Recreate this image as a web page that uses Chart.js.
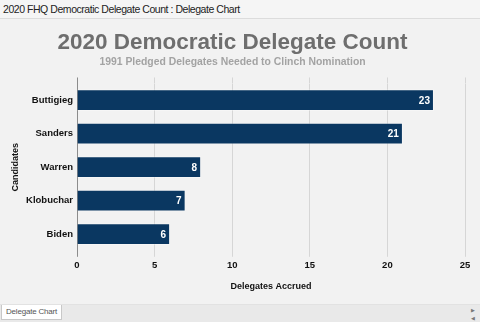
<!DOCTYPE html>
<html>
<head>
<meta charset="utf-8">
<script src="https://cdn.jsdelivr.net/npm/chart.js@4/dist/chart.umd.min.js"></script>
<style>
  body { margin: 0; width: 480px; height: 322px; overflow: hidden; background: #f2f2f2; font-family: "Liberation Sans", Arial, sans-serif; }
  #header { height: 18px; line-height: 18px; padding-left: 3px; font-size: 10.5px; letter-spacing: -0.45px; color: #222; background: #f5f5f5; border-bottom: 1px solid #dcdcdc; white-space: nowrap; }
  #wrap { position: relative; width: 480px; height: 285px; background: #f2f2f2; }
  #footer { position: relative; height: 18px; background: #e9e9e9; border-top: 1px solid #e2e2e2; }
  #tab { position: absolute; left: 1px; top: 0; padding: 0 4px; height: 14px; line-height: 14px; font-size: 8px; letter-spacing: -0.2px; color: #555; background: #fff; border: 1px solid #c8c8c8; border-top: none; white-space: nowrap; }
  .arrow { position: absolute; right: 5px; font-size: 5px; color: #777; }
</style>
</head>
<body>
<div id="header">2020 FHQ Democratic Delegate Count : Delegate Chart</div>
<div id="wrap"><canvas id="myChart"></canvas></div>
<div id="footer">
  <div id="tab">Delegate Chart</div>
  <span class="arrow" style="top:2px">&#9654;</span>
  <span class="arrow" style="top:10px">&#9664;</span>
</div>
<script>
const candidates = ["Buttigieg", "Sanders", "Warren", "Klobuchar", "Biden"]
const delegates = [23, 21, 8, 7, 6]
const xTicks = [0, 5, 10, 15, 20, 25]

const canvas = document.querySelector("#myChart")
const barColor = "#0a3761"
const gridColor = "#d6d6d6"
const zeroColor = "#8c8c8c"
const boldFont = { family: "'Liberation Sans', Arial, sans-serif", weight: "bold" }

// value labels drawn inside the end of each bar
const barLabels = {
    id: "barLabels",
    afterDatasetsDraw(chart) {
        const ctx = chart.ctx
        const meta = chart.getDatasetMeta(0)
        ctx.save()
        ctx.fillStyle = "#ffffff"
        ctx.font = "bold 10px 'Liberation Sans', Arial, sans-serif"
        ctx.textAlign = "right"
        ctx.textBaseline = "middle"
        meta.data.forEach((bar, i) => {
            ctx.fillText(String(delegates[i]), bar.x - 4, bar.y + 1)
        })
        ctx.restore()
    }
}

const gridLineColor = (c) => (c.tick && c.tick.value === 0 ? zeroColor : gridColor)

const config = {
    type: "bar",
    data: {
        labels: candidates,
        datasets: [{
            label: "Delegates",
            data: delegates,
            backgroundColor: barColor,
            borderColor: "rgba(255,255,255,0.35)",
            borderWidth: 1,
            barPercentage: 0.65,
            categoryPercentage: 1.0
        }]
    },
    options: {
        indexAxis: "y",
        responsive: true,
        maintainAspectRatio: false,
        animation: false,
        layout: { padding: { left: 0, right: 15, top: 0, bottom: 8 } },
        plugins: {
            legend: { display: false },
            tooltip: { enabled: false },
            title: {
                display: true,
                text: "2020 Democratic Delegate Count",
                color: "#6e6e6e",
                font: { ...boldFont, size: 22.5 },
                padding: { top: 10, bottom: 0 }
            },
            subtitle: {
                display: true,
                text: "1991 Pledged Delegates Needed to Clinch Nomination",
                color: "#a3a3a3",
                font: { ...boldFont, size: 10.4 },
                padding: { top: 0, bottom: 9 }
            }
        },
        scales: {
            x: {
                min: 0,
                max: 25,
                afterBuildTicks: (s) => { s.ticks = xTicks.map((v) => ({ value: v })) },
                ticks: { color: "#111", font: { ...boldFont, size: 9.5 }, padding: 3 },
                grid: { color: gridLineColor, tickLength: 6, tickColor: gridLineColor },
                border: { display: false },
                title: {
                    display: true,
                    text: "Delegates Accrued",
                    color: "#111",
                    font: { ...boldFont, size: 9 },
                    padding: { top: 7, bottom: 4 }
                }
            },
            xTop: {
                axis: "x",
                position: "top",
                min: 0,
                max: 25,
                afterBuildTicks: (s) => { s.ticks = xTicks.map((v) => ({ value: v })) },
                ticks: { display: false },
                grid: { drawOnChartArea: false, tickLength: 6, color: gridLineColor, tickColor: gridLineColor },
                border: { display: false }
            },
            y: {
                afterFit: (s) => { s.width = 77 },
                ticks: { color: "#111", font: { ...boldFont, size: 9.5 }, padding: 4 },
                grid: { display: false, drawTicks: false },
                border: { display: true, color: zeroColor },
                title: {
                    display: true,
                    text: "Candidates",
                    color: "#111",
                    font: { ...boldFont, size: 9 },
                    padding: { top: 10, bottom: 0 }
                }
            }
        }
    },
    plugins: [barLabels]
}
new Chart(canvas, config)
</script>
</body>
</html>
